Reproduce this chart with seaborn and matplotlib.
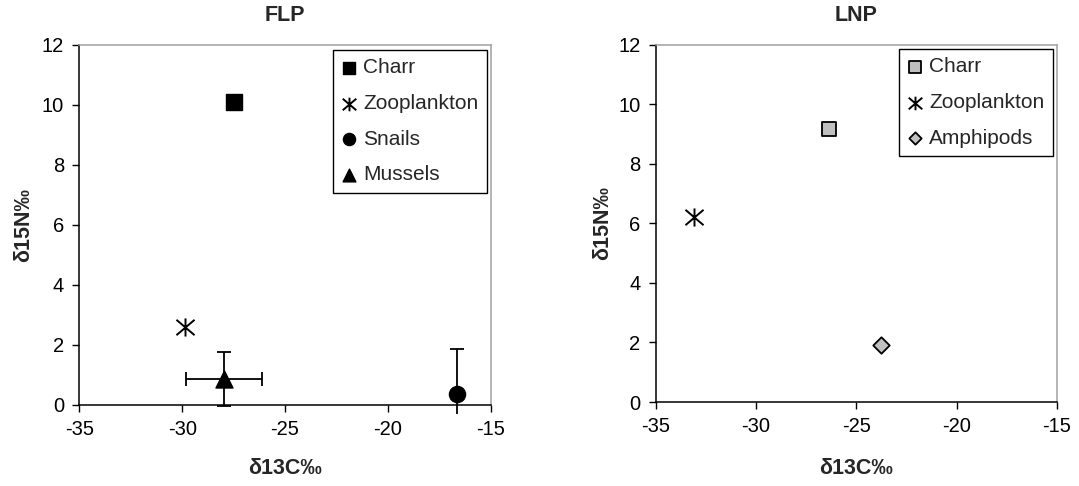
import numpy as np
import pandas as pd
import matplotlib
matplotlib.use("Agg")
import matplotlib.pyplot as plt
from matplotlib.path import Path
from matplotlib.patches import Rectangle
import seaborn as sns

# ---------------- data ----------------
flp_species = ["Charr", "Zooplankton", "Snails", "Mussels"]
flp_d13c = [-27.5, -29.85, -16.65, -27.95]
flp_d15n = [10.08, 2.61, 0.36, 0.88]
flp_d13c_err = [0.0, 0.0, 0.0, 1.85]
flp_d15n_err = [0.0, 0.0, 1.5, 0.9]

lnp_species = ["Charr", "Zooplankton", "Amphipods"]
lnp_d13c = [-26.35, -33.1, -23.75]
lnp_d15n = [9.16, 6.2, 1.93]

x_ticks = [-35, -30, -25, -20, -15]
y_ticks = [0, 2, 4, 6, 8, 10, 12]
titles = ["FLP", "LNP"]
xlabel = "δ13C‰"
ylabel = "δ15N‰"

# ---------------- style ----------------
sns.set_theme(style="white")
plt.rcParams["font.family"] = ["Liberation Sans", "DejaVu Sans"]

asterisk = Path(
    [(0, -1), (0, 1), (-1, -0.85), (1, 0.85), (-1, 0.85), (1, -0.85)],
    [Path.MOVETO, Path.LINETO, Path.MOVETO, Path.LINETO, Path.MOVETO, Path.LINETO],
)

flp_style = {
    "Charr": dict(marker="s", s=130, color="black", edgecolor="black", linewidth=1),
    "Zooplankton": dict(marker=asterisk, s=170, color="black", edgecolor="black", linewidth=1.4),
    "Snails": dict(marker="o", s=135, color="black", edgecolor="black", linewidth=1),
    "Mussels": dict(marker="^", s=150, color="black", edgecolor="black", linewidth=1),
}
lnp_style = {
    "Charr": dict(marker="s", s=115, color="#c0c0c0", edgecolor="black", linewidth=1.3),
    "Zooplankton": dict(marker=asterisk, s=170, color="black", edgecolor="black", linewidth=1.4),
    "Amphipods": dict(marker="D", s=70, color="#c0c0c0", edgecolor="black", linewidth=1.3),
}

flp = pd.DataFrame({"species": flp_species, "d13c": flp_d13c, "d15n": flp_d15n,
                    "xerr": flp_d13c_err, "yerr": flp_d15n_err})
lnp = pd.DataFrame({"species": lnp_species, "d13c": lnp_d13c, "d15n": lnp_d15n})

fig = plt.figure(figsize=(10.79, 4.86), dpi=100)
ax1 = fig.add_axes([0.0735, 0.1667, 0.3813, 0.7414])
ax2 = fig.add_axes([0.6077, 0.1728, 0.3719, 0.7350])

FS = 14.5
LEGFS = 15
LFS = 15.5


def style_axes(ax, title, ylab_x, xlab_y):
    ax.set_xlim(-35, -15)
    ax.set_ylim(0, 12)
    ax.set_xticks(x_ticks)
    ax.set_yticks(y_ticks)
    ax.set_xticklabels([str(t) for t in x_ticks])
    ax.set_yticklabels([str(t) for t in y_ticks])
    ax.tick_params(axis="both", which="major", direction="out", length=5, width=1,
                   color="black", labelsize=FS, labelcolor="black", pad=6,
                   bottom=True, left=True)
    for side in ("left", "bottom"):
        ax.spines[side].set_color("black")
        ax.spines[side].set_linewidth(1.1)
    for side in ("top", "right"):
        ax.spines[side].set_color("#a0a0a0")
        ax.spines[side].set_linewidth(1.1)
    ax.set_title(title, fontsize=LFS, fontweight="bold", pad=17)
    ax.set_xlabel(xlabel, fontsize=LFS, fontweight="bold")
    ax.set_ylabel(ylabel, fontsize=LFS, fontweight="bold")
    ax.yaxis.set_label_coords(ylab_x, 0.5)
    ax.xaxis.set_label_coords(0.5, xlab_y)
    ax.grid(False)


def add_legend(ax, anchor):
    leg = ax.legend(loc="upper right", bbox_to_anchor=anchor, borderaxespad=0,
                    fontsize=LEGFS, frameon=True, fancybox=False, edgecolor="black",
                    framealpha=1, handlelength=0.75, handletextpad=0.3,
                    labelspacing=0.8, borderpad=0.4, markerscale=0.75)
    leg.get_frame().set_linewidth(1)


# ---------------- FLP ----------------
clip_rect = Rectangle((0, -0.025), 1, 1.05, transform=ax1.transAxes,
                      facecolor="none", edgecolor="none")
ax1.add_patch(clip_rect)
for _, row in flp.iterrows():
    if row["xerr"] > 0:
        eb = ax1.errorbar(row["d13c"], row["d15n"], xerr=row["xerr"], fmt="none",
                          ecolor="black", elinewidth=1.3, capsize=5, capthick=1.3, zorder=2)
    if row["yerr"] > 0:
        eb = ax1.errorbar(row["d13c"], row["d15n"], yerr=row["yerr"], fmt="none",
                          ecolor="black", elinewidth=1.3, capsize=5, capthick=1.3, zorder=2)
        for art in list(eb.lines[1]) + list(eb.lines[2]):
            art.set_clip_path(clip_rect)

for sp in flp_species:
    sns.scatterplot(data=flp[flp["species"] == sp], x="d13c", y="d15n", ax=ax1,
                    label=sp, legend=False, zorder=3, clip_on=False, **flp_style[sp])

style_axes(ax1, titles[0], -0.110, -0.148)
add_legend(ax1, (0.991, 0.985))

# ---------------- LNP ----------------
for sp in lnp_species:
    sns.scatterplot(data=lnp[lnp["species"] == sp], x="d13c", y="d15n", ax=ax2,
                    label=sp, legend=False, zorder=3, clip_on=False, **lnp_style[sp])

style_axes(ax2, titles[1], -0.106, -0.158)
add_legend(ax2, (0.989, 0.988))

fig.savefig("out.png", dpi=100)
